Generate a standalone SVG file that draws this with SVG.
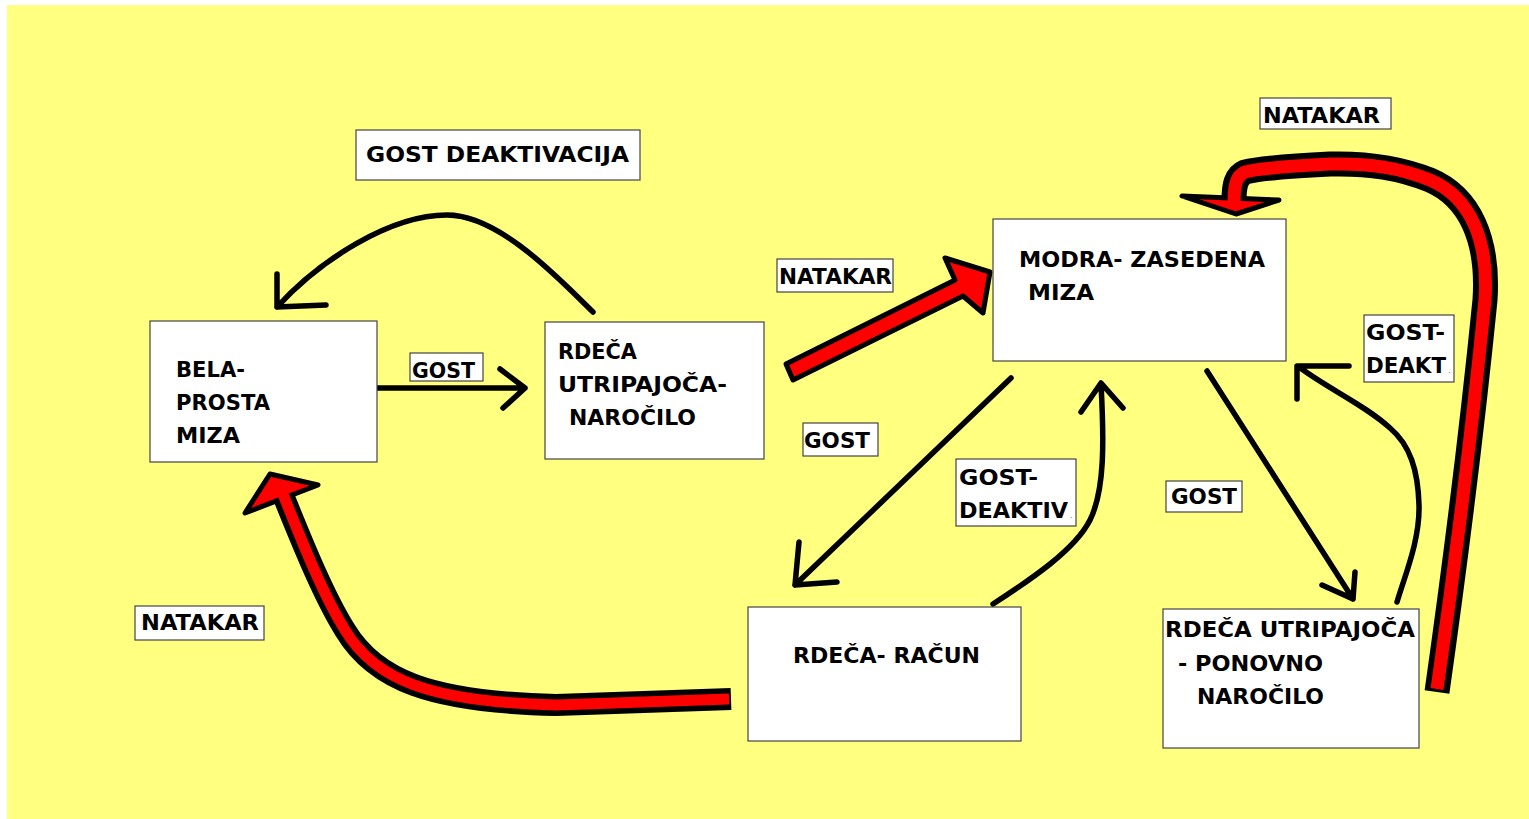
<svg xmlns="http://www.w3.org/2000/svg" width="1529" height="819" viewBox="0 0 1529 819">
<style>
.bg{fill:#FFFF80}
.box{fill:#fff;stroke:#444;stroke-width:1.2}
.t{font-family:"DejaVu Sans","Liberation Sans",sans-serif;font-weight:bold;font-size:21px;fill:#000}
.dot{font-family:"DejaVu Sans","Liberation Sans",sans-serif;font-size:9px;fill:#888}
.ln{fill:none;stroke:#000;stroke-width:5.5;stroke-linecap:round;stroke-linejoin:round}
.rb{fill:none;stroke:#000;stroke-linejoin:round}
.rr{fill:none;stroke:#f00;stroke-linejoin:round}
.rh{fill:#f00;stroke:#000;stroke-width:5;stroke-linejoin:round}
</style>
<rect x="0" y="0" width="1529" height="819" fill="#fff"/>
<rect class="bg" x="7" y="5" width="1522" height="814"/>

<g id="connectors">
  <!-- BELA -> RDECA (GOST) -->
  <path class="ln" d="M377,388 L525,388 M500,369 L525,388 L503,408"/>
  <!-- RDECA -> BELA (GOST DEAKTIVACIJA) -->
  <path class="ln" d="M593,312 C560,280 500,215 447,215 C390,215 320,260 277,307 M277,274 L277,307 L326,305"/>
  <!-- RDECA -> MODRA (NATAKAR) red -->
  <polygon class="rh" points="786,364 955,280 945,258 990,272 983,313 963,296 793,380"/>
  <!-- MODRA -> RACUN (GOST) -->
  <path class="ln" d="M1011,378 L795,585 M799,542 L795,585 L837,582"/>
  <!-- RACUN -> MODRA (GOST-DEAKTIV.) -->
  <path class="ln" d="M993,604 C1030,580 1075,550 1090,520 C1105,490 1104,440 1101,384 M1081,412 L1101,383 L1123,408"/>
  <!-- MODRA -> PONOVNO (GOST) -->
  <path class="ln" d="M1207,371 L1353,599 M1322,585 L1353,599 L1355,572"/>
  <!-- PONOVNO -> MODRA (GOST-DEAKT.) -->
  <path class="ln" d="M1397,602 C1405,575 1420,540 1419,505 C1418,470 1410,445 1390,428 C1365,405 1330,390 1299,367 M1297,399 L1297,366 L1349,366"/>
  <!-- PONOVNO -> MODRA (NATAKAR) red -->
  <path class="rb" stroke-width="25" d="M1437,692 C1450,600 1470,450 1485,300 C1489,240 1470,197 1430,180 C1400,168 1370,163 1330,164 C1290,166 1260,168 1245,172 C1236,176 1234,185 1234,200"/>
  <polygon class="rh" points="1182,196 1279,200 1236,214"/>
  <path class="rr" stroke-width="13" d="M1437,689 C1450,600 1470,450 1485,300 C1489,240 1470,197 1430,180 C1400,168 1370,163 1330,164 C1290,166 1260,168 1245,172 C1236,176 1234,185 1234,204"/>
  <!-- RACUN -> BELA (NATAKAR) red -->
  <path class="rb" stroke-width="22" d="M731,699 L556,705 C430,702 375,680 345,630 C325,598 305,550 281,490"/>
  <polygon class="rh" points="245,513 270,474 318,485"/>
  <path class="rr" stroke-width="11" d="M729,699 L556,705 C430,702 375,680 345,630 C325,598 305,550 279,484"/>
</g>

<g id="labels">
  <g id="lbl-gost-deaktivacija"><rect class="box" x="356" y="130" width="284" height="50"/><text class="t" x="366" y="162" font-size="22" textLength="263" lengthAdjust="spacingAndGlyphs">GOST DEAKTIVACIJA</text></g>
  <g id="lbl-gost1"><rect class="box" x="410" y="353" width="73" height="28"/><text class="t" x="412" y="378" textLength="63" lengthAdjust="spacingAndGlyphs">GOST</text></g>
  <g id="lbl-natakar1"><rect class="box" x="777" y="259" width="116" height="33"/><text class="t" x="779" y="284" textLength="113" lengthAdjust="spacingAndGlyphs">NATAKAR</text></g>
  <g id="lbl-natakar2"><rect class="box" x="1260" y="98" width="131" height="31"/><text class="t" x="1263" y="123" textLength="117" lengthAdjust="spacingAndGlyphs">NATAKAR</text></g>
  <g id="lbl-gost2"><rect class="box" x="803" y="423" width="75" height="33"/><text class="t" x="804" y="448" textLength="66" lengthAdjust="spacingAndGlyphs">GOST</text></g>
  <g id="lbl-gost-deaktiv"><rect class="box" x="956" y="459" width="120" height="67"/><text class="t" x="959" y="485" textLength="79" lengthAdjust="spacingAndGlyphs">GOST-</text><text class="t" x="959" y="518" textLength="109" lengthAdjust="spacingAndGlyphs">DEAKTIV</text><text class="dot" x="1070" y="518">.</text></g>
  <g id="lbl-gost3"><rect class="box" x="1166" y="481" width="76" height="31"/><text class="t" x="1171" y="504" textLength="66" lengthAdjust="spacingAndGlyphs">GOST</text></g>
  <g id="lbl-gost-deakt"><rect class="box" x="1364" y="315" width="90" height="67"/><text class="t" x="1366" y="340" textLength="79" lengthAdjust="spacingAndGlyphs">GOST-</text><text class="t" x="1366" y="373" textLength="80" lengthAdjust="spacingAndGlyphs">DEAKT</text><text class="dot" x="1448" y="373">.</text></g>
  <g id="lbl-natakar3"><rect class="box" x="135" y="606" width="129" height="34"/><text class="t" x="141" y="630" textLength="118" lengthAdjust="spacingAndGlyphs">NATAKAR</text></g>
</g>

<g id="node-bela">
  <rect class="box" x="150" y="321" width="227" height="141"/>
  <text class="t" x="176" y="377" textLength="69" lengthAdjust="spacingAndGlyphs">BELA-</text>
  <text class="t" x="176" y="410" textLength="94" lengthAdjust="spacingAndGlyphs">PROSTA</text>
  <text class="t" x="176" y="443" textLength="64" lengthAdjust="spacingAndGlyphs">MIZA</text>
</g>
<g id="node-rdeca-narocilo">
  <rect class="box" x="545" y="322" width="219" height="137"/>
  <text class="t" x="558" y="359" textLength="79" lengthAdjust="spacingAndGlyphs">RDEČA</text>
  <text class="t" x="558" y="392" textLength="169" lengthAdjust="spacingAndGlyphs">UTRIPAJOČA-</text>
  <text class="t" x="569" y="425" textLength="127" lengthAdjust="spacingAndGlyphs">NAROČILO</text>
</g>
<g id="node-modra">
  <rect class="box" x="993" y="219" width="293" height="142"/>
  <text class="t" x="1019" y="267" font-size="22" textLength="246" lengthAdjust="spacingAndGlyphs">MODRA-  ZASEDENA</text>
  <text class="t" x="1028" y="300" font-size="22" textLength="66" lengthAdjust="spacingAndGlyphs">MIZA</text>
</g>
<g id="node-racun">
  <rect class="box" x="748" y="607" width="273" height="134"/>
  <text class="t" x="793" y="663" textLength="187" lengthAdjust="spacingAndGlyphs">RDEČA-  RAČUN</text>
</g>
<g id="node-ponovno">
  <rect class="box" x="1163" y="609" width="256" height="139"/>
  <text class="t" x="1165" y="637" textLength="250" lengthAdjust="spacingAndGlyphs">RDEČA UTRIPAJOČA</text>
  <text class="t" x="1178" y="671" textLength="145" lengthAdjust="spacingAndGlyphs">-  PONOVNO</text>
  <text class="t" x="1197" y="704" textLength="127" lengthAdjust="spacingAndGlyphs">NAROČILO</text>
</g>
</svg>
